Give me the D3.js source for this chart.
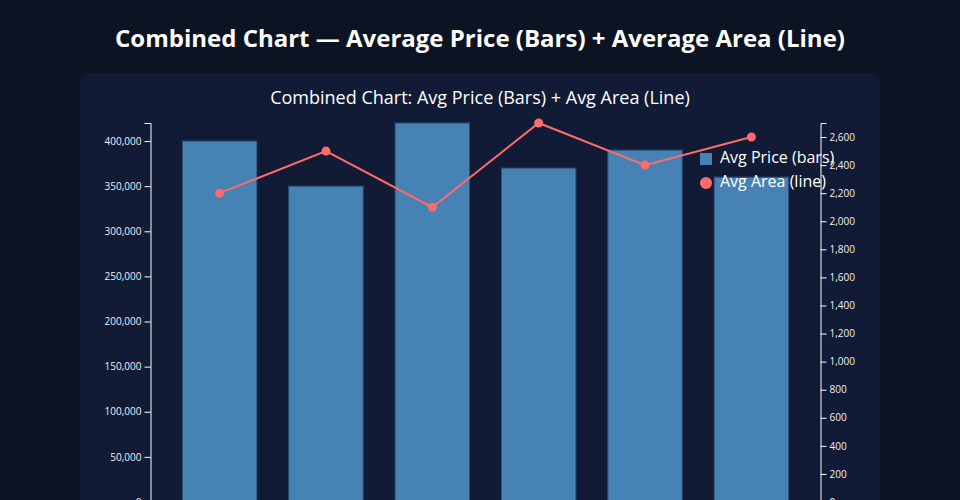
<!DOCTYPE html>
<html>
<head>
<meta charset="utf-8">
<script src="https://cdn.jsdelivr.net/npm/d3@7"></script>
<style>
  html, body { margin: 0; padding: 0; background: #0c1322; }
  svg { display: block; font-family: "Open Sans", sans-serif; }
</style>
</head>
<body>
<svg id="chart" width="960" height="620"></svg>
<script>
const categories = ["Region A", "Region B", "Region C", "Region D", "Region E", "Region F"];
const avgPrice = [400000, 350000, 420000, 370000, 390000, 360000];
const avgArea = [2200, 2500, 2100, 2700, 2400, 2600];
const seriesNames = ["Avg Price (bars)", "Avg Area (line)"];
const pageTitle = "Combined Chart — Average Price (Bars) + Average Area (Line)";
const chartTitle = "Combined Chart: Avg Price (Bars) + Avg Area (Line)";

const svg = d3.select("#chart");

svg.append("rect").attr("x", 0).attr("y", 0).attr("width", 960).attr("height", 620).attr("fill", "#0c1322");

svg.append("text")
  .attr("x", 480).attr("y", 47)
  .attr("text-anchor", "middle")
  .attr("fill", "#ffffff")
  .attr("font-size", 24).attr("font-weight", 700)
  .text(pageTitle);

svg.append("rect")
  .attr("x", 80).attr("y", 73).attr("width", 800).attr("height", 540)
  .attr("rx", 8).attr("fill", "#111b35");

svg.append("text")
  .attr("x", 480).attr("y", 104)
  .attr("text-anchor", "middle")
  .attr("fill", "#ffffff")
  .attr("font-size", 18)
  .text(chartTitle);

const pLeft = 150.5, pRight = 820.5, pTop = 123, pBottom = 502;

const x = d3.scaleBand().domain(categories).range([pLeft, pRight]).paddingInner(0.3).paddingOuter(0.3);
const yL = d3.scaleLinear().domain([0, d3.max(avgPrice)]).range([pBottom, pTop]);
const yR = d3.scaleLinear().domain([0, d3.max(avgArea)]).range([pBottom, pTop]);

// bars
svg.append("g").selectAll("rect").data(categories).join("rect")
  .attr("x", d => x(d))
  .attr("y", (d, i) => yL(avgPrice[i]))
  .attr("width", x.bandwidth())
  .attr("height", (d, i) => pBottom - yL(avgPrice[i]))
  .attr("fill", "#4682b4")
  .attr("stroke", "#2b4f78")
  .attr("stroke-width", 1);

// line
const line = d3.line()
  .x((d, i) => x(categories[i]) + x.bandwidth() / 2)
  .y(d => yR(d));
svg.append("path").datum(avgArea)
  .attr("d", line)
  .attr("fill", "none")
  .attr("stroke", "#ff6b6b")
  .attr("stroke-width", 2);
svg.append("g").selectAll("circle").data(avgArea).join("circle")
  .attr("cx", (d, i) => x(categories[i]) + x.bandwidth() / 2)
  .attr("cy", d => yR(d))
  .attr("r", 4.5)
  .attr("fill", "#ff6b6b");

// legend
const lg = svg.append("g");
lg.append("rect").attr("x", 700).attr("y", 153).attr("width", 12).attr("height", 12).attr("fill", "#4682b4");
lg.append("text").attr("x", 720).attr("y", 159).attr("dominant-baseline", "middle")
  .attr("fill", "#ffffff").attr("font-size", 16).text(seriesNames[0]);
lg.append("circle").attr("cx", 706).attr("cy", 183).attr("r", 6).attr("fill", "#ff6b6b");
lg.append("text").attr("x", 720).attr("y", 183).attr("dominant-baseline", "middle")
  .attr("fill", "#ffffff").attr("font-size", 16).text(seriesNames[1]);

// axes
const fmt = d3.format(",");
const gL = svg.append("g").attr("transform", `translate(${pLeft},0)`)
  .call(d3.axisLeft(yL).ticks(8).tickFormat(fmt));
const gR = svg.append("g").attr("transform", `translate(${pRight},0)`)
  .call(d3.axisRight(yR).ticks(14).tickFormat(fmt));
const gX = svg.append("g").attr("transform", `translate(0,${pBottom})`)
  .call(d3.axisBottom(x));
[gL, gR, gX].forEach(g => {
  g.selectAll(".domain").attr("stroke", "#ffffff");
  g.selectAll(".tick line").attr("stroke", "#ffffff");
  g.selectAll(".tick text").attr("fill", "#f0f0f0").attr("font-size", 10).attr("font-family", "Open Sans, sans-serif");
});
</script>
</body>
</html>
